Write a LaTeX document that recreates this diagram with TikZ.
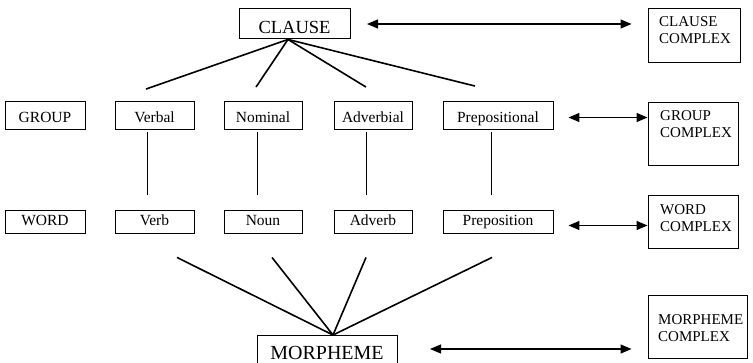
\documentclass[tikz,border=0pt]{standalone}
\usepackage{fontspec}
\setmainfont{Liberation Serif}
\usetikzlibrary{arrows.meta,calc}

\tikzset{
  unit/.style={draw, line width=0.9pt, rectangle, inner sep=0pt, align=center,
    text depth=0pt, font=\fontsize{15.5}{17}\selectfont},
  grouprow/.style={unit, text height=15pt, minimum height=28pt},
  wordrow/.style={unit, text height=8pt, minimum height=23pt},
  bigunit/.style={unit, text height=22pt, font=\fontsize{18.5}{20}\selectfont},
  cplxbox/.style={draw, line width=0.9pt, rectangle, inner sep=0pt},
  cplxtext/.style={anchor=north west, inner sep=0pt, align=left,
    font=\fontsize{15}{17.5}\selectfont},
  tree/.style={line width=1.6pt},
  stem/.style={line width=0.9pt},
  rank/.style={line width=1.2pt, {Triangle[length=11pt,width=9pt]}-{Triangle[length=11pt,width=9pt]}}
}

\begin{document}
\begin{tikzpicture}[x=1pt,y=-1pt]
\useasboundingbox (0,0) rectangle (753,363);
\clip (0,0) rectangle (753,363);

% clause rank
\node[bigunit, minimum width=111pt, minimum height=30pt] (clause) at (294.5,23) {CLAUSE};
\node[cplxbox, minimum width=92pt, minimum height=54pt] (cc) at (694,35) {};
\node[cplxtext] (cct) at (659,16) {CLAUSE\\COMPLEX};

% group rank
\node[grouprow, minimum width=80pt] (group) at (45,115.5) {GROUP};
\node[grouprow, minimum width=79pt] (verbal) at (154.5,115.5) {Verbal};
\node[grouprow, minimum width=78pt] (nominal) at (263,115.5) {Nominal};
\node[grouprow, minimum width=78pt] (adverbial) at (373,115.5) {Adverbial};
\node[grouprow, minimum width=110pt] (prep) at (498,115.5) {Prepositional};
\node[cplxbox, minimum width=90pt, minimum height=63pt] (gc) at (693,133.5) {};
\node[cplxtext] (gct) at (660,110) {GROUP\\COMPLEX};

% word rank
\node[wordrow, minimum width=80pt] (word) at (45,221.5) {WORD};
\node[wordrow, minimum width=79pt] (verb) at (154.5,221.5) {Verb};
\node[wordrow, minimum width=78pt] (noun) at (263,221.5) {Noun};
\node[wordrow, minimum width=78pt] (adverb) at (373,221.5) {Adverb};
\node[wordrow, minimum width=110pt] (preposition) at (498,221.5) {Preposition};
\node[cplxbox, minimum width=90pt, minimum height=53pt] (wc) at (693,221.5) {};
\node[cplxtext] (wct) at (660,204) {WORD\\COMPLEX};

% morpheme rank (box runs past the lower edge)
\node[draw, line width=0.9pt, rectangle, inner sep=0pt, minimum width=140pt,
      minimum height=40pt, anchor=north] (morph) at (327,335) {};
\node[inner sep=0pt, anchor=base, font=\fontsize{20}{22}\selectfont] (morpht) at (327,359.5) {MORPHEME};
\node[cplxbox, minimum width=99pt, minimum height=63pt] (mc) at (697.5,326.5) {};
\node[cplxtext] (mct) at (658,314) {MORPHEME\\COMPLEX};

% clause to groups
\coordinate (chub) at ($(clause.south)+(-6.5,1)$);
\draw[tree] (chub) -- ($(verbal.north)+(-8.5,-12)$);
\draw[tree] (chub) -- ($(nominal.north)+(-7,-14)$);
\draw[tree] (chub) -- ($(adverbial.north)+(-7,-14)$);
\draw[tree] (chub) -- ($(prep.north)+(-23,-15)$);

% groups to words
\draw[stem] ($(verbal.south)+(-7.5,2)$) -- ($(verb.north)+(-7.5,-15)$);
\draw[stem] ($(nominal.south)+(-6,2)$) -- ($(noun.north)+(-6,-15)$);
\draw[stem] ($(adverbial.south)+(-7,2)$) -- ($(adverb.north)+(-7,-15)$);
\draw[stem] ($(prep.south)+(-7,2)$) -- ($(preposition.north)+(-7,-15)$);

% words to morpheme
\coordinate (mhub) at ($(morph.north)+(6,0)$);
\draw[tree] ($(verb.south)+(22.5,24)$) -- (mhub);
\draw[tree] ($(noun.south)+(9,24)$) -- (mhub);
\draw[tree] ($(adverb.south)+(-7,24)$) -- (mhub);
\draw[tree] ($(preposition.south)+(-6,24)$) -- (mhub);

% rank to complex arrows
\coordinate (ca) at (367,24);
\draw[rank] (ca) -- ($(ca -| cc.west)+(-16,0)$);
\coordinate (ga) at ($(prep.east)+(15,2)$);
\draw[rank] (ga) -- (ga -| gc.west);
\coordinate (wa) at ($(preposition.east)+(15,4)$);
\draw[rank] (wa) -- (wa -| wc.west);
\coordinate (ma) at (430,349);
\draw[rank] (ma) -- ($(ma -| mc.west)+(-16,0)$);
\end{tikzpicture}
\end{document}
